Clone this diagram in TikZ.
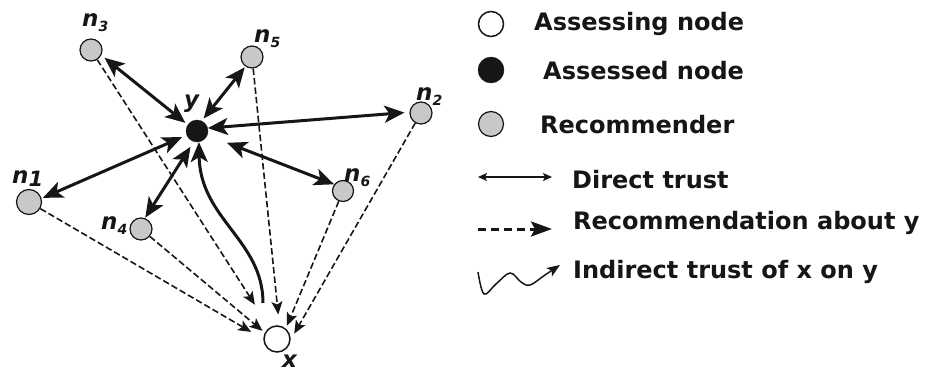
\documentclass[tikz,border=0pt]{standalone}
\usepackage{fontspec}
\setmainfont{DejaVu Sans}
\usetikzlibrary{arrows.meta,calc}
\definecolor{recgray}{RGB}{200,200,200}
\definecolor{ink}{RGB}{22,22,22}
\begin{document}
\begin{tikzpicture}[x=1pt,y=-1pt,
  recnode/.style={circle,draw=ink,line width=1.2pt,fill=recgray,inner sep=0pt,minimum size=22pt},
  ynode/.style={circle,draw=ink,fill=ink,inner sep=0pt,minimum size=22pt},
  xnode/.style={circle,draw=ink,line width=1.5pt,fill=white,inner sep=0pt,minimum size=26pt},
  lbl/.style={anchor=base west,inner sep=0pt,font=\fontsize{23}{23}\selectfont\bfseries\itshape,text=ink},
  legtext/.style={anchor=base west,inner sep=0pt,font=\fontsize{24}{24}\selectfont\bfseries,text=ink},
  bighead/.tip={Stealth[length=20pt,width=17pt,inset=5pt]},
  smallhead/.tip={Stealth[length=13pt,width=11pt,inset=3pt]},
  direct/.style={line width=3pt,draw=ink,bighead-bighead},
  indirect/.style={line width=3pt,draw=ink,-bighead},
  recarrow/.style={line width=1.6pt,draw=ink,dash pattern=on 6.5pt off 3pt,-smallhead},
  legdirect/.style={line width=1.5pt,draw=ink,{Stealth[length=9pt,width=8pt,inset=2pt]}-{Stealth[length=9pt,width=8pt,inset=2pt]}},
  legrec/.style={line width=3pt,draw=ink,dash pattern=on 8pt off 5pt,-{Stealth[length=21pt,width=15pt,inset=4pt]}},
  legwave/.style={line width=1.5pt,draw=ink,-{Stealth[length=13pt,width=10pt,inset=3pt]}}
]
\useasboundingbox (0,0) rectangle (934,369);

% nodes
\node[recnode] (n3) at (91,50) {};
\node[recnode] (n5) at (252,57) {};
\node[recnode] (n2) at (421,113) {};
\node[recnode,minimum size=25pt] (n1) at (29,202) {};
\node[recnode,minimum size=21pt] (n6) at (343,191) {};
\node[recnode] (n4) at (141,229) {};
\node[ynode] (y) at (197,131) {};
\node[xnode] (x) at (277,339) {};

% labels
\node[lbl] (ln3) at (82,27) {n\raisebox{-5pt}{\fontsize{14}{14}\selectfont 3}};
\node[lbl] (ln5) at (254,43) {n\raisebox{-5pt}{\fontsize{14}{14}\selectfont 5}};
\node[lbl] (ln2) at (416,100) {n\raisebox{-5pt}{\fontsize{14}{14}\selectfont 2}};
\node[lbl] (ln1) at (12,183) {n\raisebox{-3pt}{\fontsize{21}{21}\selectfont 1}};
\node[lbl] (ln6) at (344,181) {n\raisebox{-5pt}{\fontsize{14}{14}\selectfont 6}};
\node[lbl] (ln4) at (101,229) {n\raisebox{-5pt}{\fontsize{14}{14}\selectfont 4}};
\node[lbl] (ly) at (184,107) {y};
\node[lbl] (lx) at (282,367) {x};

% direct trust
\draw[direct,shorten <=4pt,shorten >=3pt] (n3.-27) -- (y.146);
\draw[direct,shorten <=1pt,shorten >=3pt] (n5.-125) -- (y.65);
\draw[direct,shorten <=5pt] (n2.176) -- (y.15);
\draw[direct,shorten <=1.5pt,shorten >=5pt] (n1.16) -- (y.-158);
\draw[direct,shorten <=0.5pt,shorten >=6pt] (n4.70) -- (y.-107);
\draw[direct,shorten >=21pt] (n6.143) -- (y.-22);

% indirect trust
\coordinate (xs) at ($(x.center)+(-14,-36)$);
\draw[indirect] (xs) .. controls +(0,-63) and +(1,77) .. (y.-80);

% recommendations
\draw[recarrow,shorten >=27pt] (n3) -- (x.123);
\draw[recarrow,shorten >=14pt] (n1) -- (x.180);
\draw[recarrow,shorten >=3pt] (n4) -- (x.153);
\draw[recarrow,shorten >=11pt] (n5) -- (x.80);
\draw[recarrow,shorten >=3pt] (n6) -- (x.50);
\draw[recarrow,shorten >=7pt] (n2) -- (x.-3);

% legend
\node[xnode,minimum size=25pt] (kx) at (491,24) {};
\node[ynode,minimum size=26pt] (ky) at (491,70) {};
\node[recnode,minimum size=25pt] (kr) at (491,124) {};
\node[legtext] (t1) at (534,31) {Assessing node};
\node[legtext] (t2) at (543,80) {Assessed node};
\node[legtext] (t3) at (540,133) {Recommender};
\node[legtext] (t4) at (572,188) {Direct trust};
\node[legtext] (t5) at (573,229) {Recommendation about y};
\node[legtext] (t6) at (573,278) {Indirect trust of x on y};

\coordinate (da1) at (478,177);
\coordinate (da2) at (552,177);
\draw[legdirect] (da1) -- (da2);
\coordinate (ra1) at (478,229);
\coordinate (ra2) at (552,229);
\draw[legrec] (ra1) -- (ra2);
\draw[legwave] plot[smooth,tension=0.6] coordinates {(478,272) (484,294) (496,284) (510,273) (521,282) (530,285) (545,275) (560,265)};
\end{tikzpicture}
\end{document}
